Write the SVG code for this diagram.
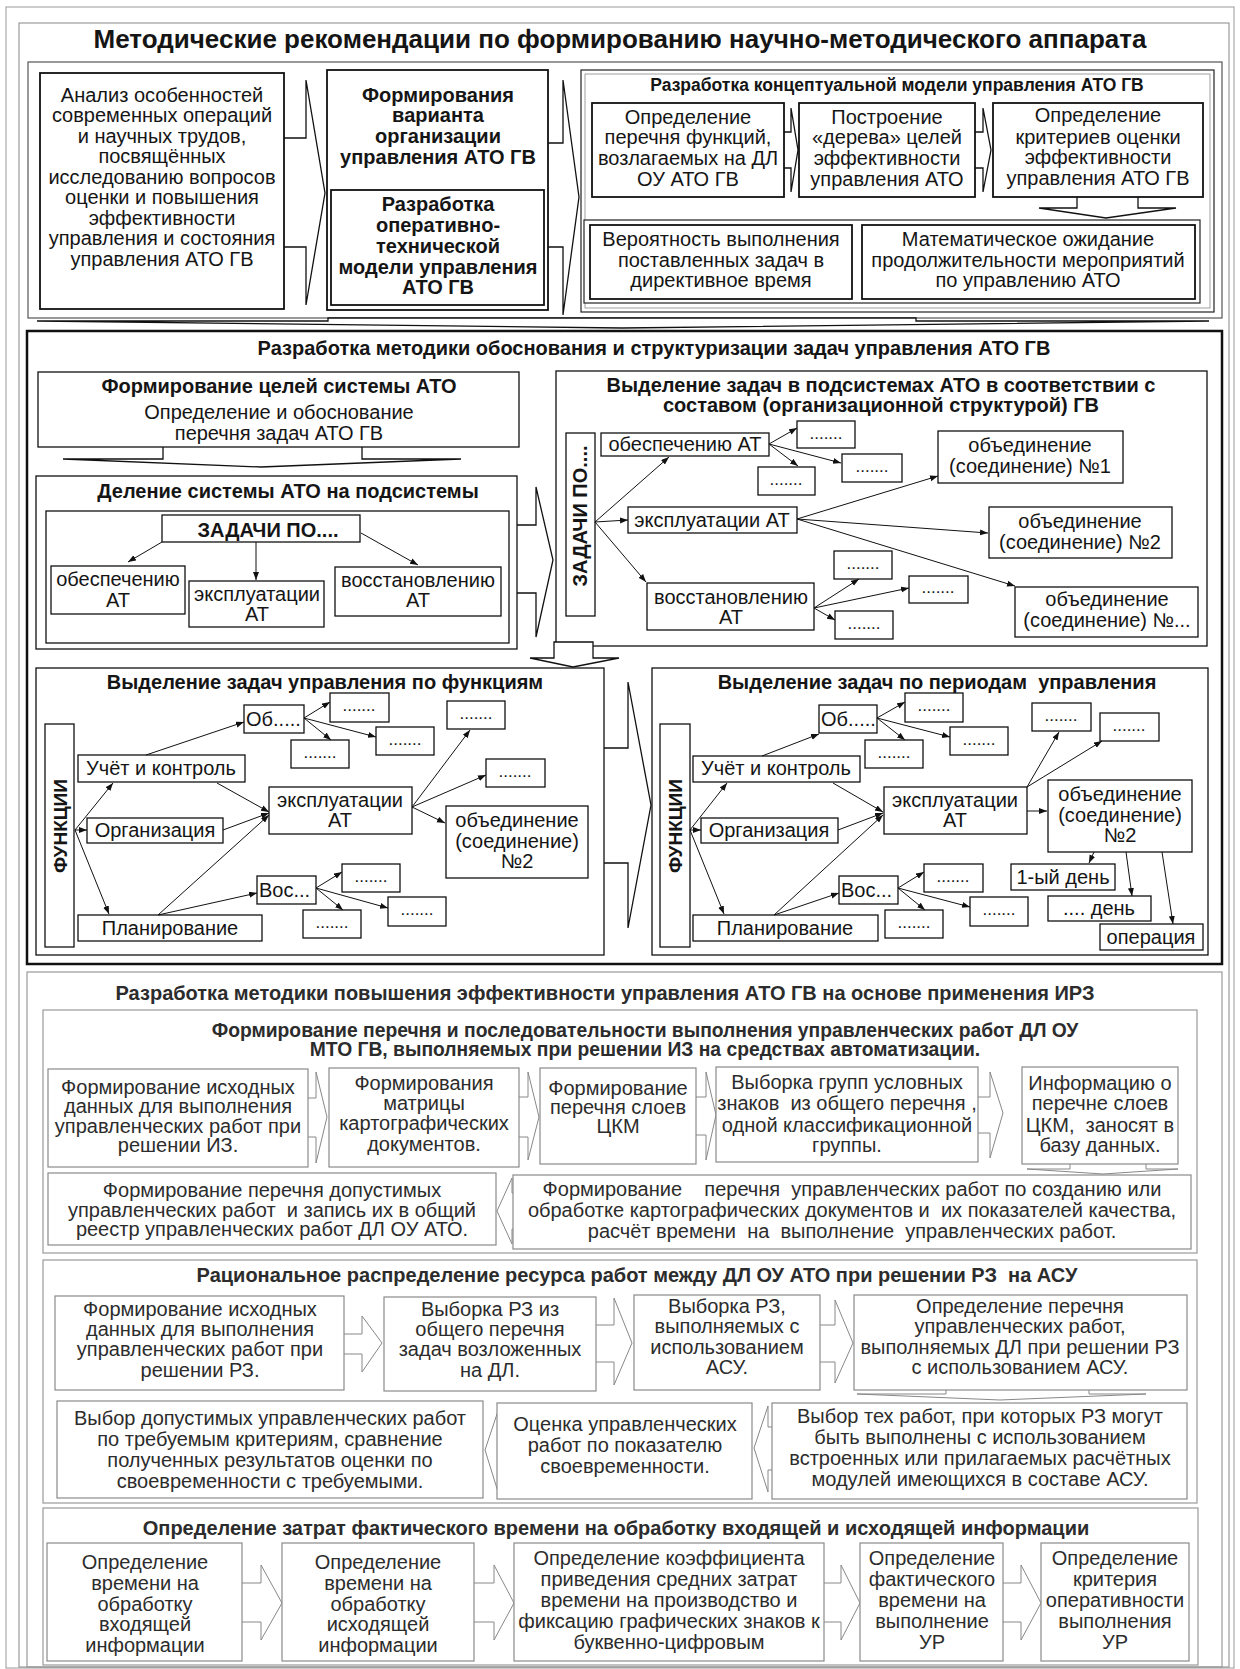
<svg xmlns="http://www.w3.org/2000/svg" width="1240" height="1669" viewBox="0 0 1240 1669">
<defs>
<style>
.t{font-family:'Liberation Sans',Arial,sans-serif;font-size:20px;fill:#151515;text-anchor:middle}
.b{font-weight:bold}
.s{text-anchor:start}
.g{fill:#2c2c2c}
.hd{font-size:20px}
.dt{font-size:17px}
.bx{fill:#fff;stroke:#111;stroke-width:1.8}
.bx2{fill:#fff;stroke:#111;stroke-width:1.3}
.gbx{fill:#fff;stroke:#8a8a8a;stroke-width:1.2}
.fr{fill:none;stroke:#555;stroke-width:1.2}
.gfr{fill:none;stroke:#999;stroke-width:1.2}
.arw{fill:#fff;stroke:#111;stroke-width:1.3}
.garw{fill:#fff;stroke:#888;stroke-width:1}
.ln{fill:none;stroke:#111;stroke-width:1;marker-end:url(#ah)}
</style>
<marker id="ah" markerUnits="userSpaceOnUse" markerWidth="9" markerHeight="7" refX="8" refY="3" orient="auto">
<path d="M0,0 L8,3 L0,6 z" fill="#111"/>
</marker>
</defs>
<rect width="1240" height="1669" fill="#fff"/>
<rect x="6" y="7" width="1228" height="1661" fill="none" stroke="#999" stroke-width="1"/>
<rect x="19" y="23" width="1210" height="1644" fill="none" stroke="#888" stroke-width="1"/>
<text class="t b" x="620" y="48" style="font-size:26px">Методические рекомендации по формированию научно-методического аппарата</text>

<!-- Section 1 -->
<g id="section1">
<rect class="fr" x="28" y="62" width="1194" height="256"/>
<polygon class="arw" points="280,138 306,138 306,80 325,193 306,305 306,247 280,247"/>
<polygon class="arw" points="544,143 563,143 563,80 579,197 563,315 563,247 544,247"/>
<g id="n-analiz">
<rect class="bx" x="40" y="73" width="244" height="236"/>
<text class="t"><tspan x="162" y="102">Анализ особенностей</tspan><tspan x="162" y="122">современных операций</tspan><tspan x="162" y="143">и научных трудов,</tspan><tspan x="162" y="163">посвящённых</tspan><tspan x="162" y="184">исследованию вопросов</tspan><tspan x="162" y="204">оценки и повышения</tspan><tspan x="162" y="225">эффективности</tspan><tspan x="162" y="245">управления и состояния</tspan><tspan x="162" y="266">управления АТО ГВ</tspan></text>
</g>
<g id="n-variant">
<rect class="bx" x="327" y="70" width="221" height="240"/>
<text class="t b"><tspan x="438" y="102">Формирования</tspan><tspan x="438" y="122">варианта</tspan><tspan x="438" y="143">организации</tspan><tspan x="438" y="164">управления АТО ГВ</tspan></text>
</g>
<g id="n-opertech">
<rect class="bx" x="331" y="190" width="213" height="115"/>
<text class="t b"><tspan x="438" y="211">Разработка</tspan><tspan x="438" y="232">оперативно-</tspan><tspan x="438" y="253">технической</tspan><tspan x="438" y="274">модели управления</tspan><tspan x="438" y="294">АТО ГВ</tspan></text>
</g>
<g id="n-concept">
<rect fill="#fff" stroke="#222" stroke-width="1.2" x="581" y="70" width="633" height="242"/>
<rect fill="none" stroke="#888" stroke-width="0.8" x="585" y="74" width="625" height="234"/>
<text class="t b" x="897" y="91" style="font-size:17.5px">Разработка концептуальной модели управления АТО ГВ</text>
</g>
<polygon class="arw" points="780,132 791,132 791,108 798,150 791,192 791,168 780,168"/>
<polygon class="arw" points="971,132 983,132 983,108 991,150 983,192 983,168 971,168"/>
<polygon class="arw" points="1077,193 1138,193 1138,208 1176,208 1106,218 1039,208 1077,208"/>
<g id="n-funcs">
<rect class="bx" x="592" y="103" width="192" height="94"/>
<text class="t"><tspan x="688" y="124">Определение</tspan><tspan x="688" y="144">перечня функций,</tspan><tspan x="688" y="165">возлагаемых на ДЛ</tspan><tspan x="688" y="186">ОУ АТО ГВ</tspan></text>
</g>
<g id="n-tree">
<rect class="bx" x="799" y="103" width="176" height="94"/>
<text class="t"><tspan x="887" y="124">Построение</tspan><tspan x="887" y="144">«дерева» целей</tspan><tspan x="887" y="165">эффективности</tspan><tspan x="887" y="186">управления АТО</tspan></text>
</g>
<g id="n-criteria">
<rect class="bx" x="993" y="103" width="210" height="94"/>
<text class="t"><tspan x="1098" y="122">Определение</tspan><tspan x="1098" y="144">критериев оценки</tspan><tspan x="1098" y="164">эффективности</tspan><tspan x="1098" y="185">управления АТО ГВ</tspan></text>
</g>
<rect fill="#fff" stroke="#222" stroke-width="1.2" x="584" y="220" width="616" height="83"/>
<g id="n-prob">
<rect class="bx" x="590" y="225" width="262" height="74"/>
<text class="t"><tspan x="721" y="246">Вероятность выполнения</tspan><tspan x="721" y="267">поставленных задач в</tspan><tspan x="721" y="287">директивное время</tspan></text>
</g>
<g id="n-expect">
<rect class="bx" x="862" y="225" width="333" height="74"/>
<text class="t"><tspan x="1028" y="246">Математическое ожидание</tspan><tspan x="1028" y="267">продолжительности мероприятий</tspan><tspan x="1028" y="287">по управлению АТО</tspan></text>
</g>
</g>
<polygon class="arw" points="328,318 916,318 916,321 1209,321 622,328 37,321 328,321"/>

<!-- Section 2 -->
<g id="section2">
<rect fill="none" stroke="#111" stroke-width="2.5" x="27" y="331" width="1195" height="633"/>
<text class="t b hd" x="654" y="355">Разработка методики обоснования и структуризации задач управления АТО ГВ</text>
<polygon class="arw" points="163,443 362,443 362,459 461,459 261,467 63,459 163,459"/>
<g id="n-goals">
<rect class="bx2" x="38" y="372" width="481" height="75"/>
<text class="t b" x="279" y="393">Формирование целей системы АТО</text>
<text class="t"><tspan x="279" y="419">Определение и обоснование</tspan><tspan x="279" y="440">перечня задач АТО ГВ</tspan></text>
</g>
<polygon class="arw" points="513,525 536,525 536,487 553,560 536,637 536,593 513,593"/>
<g id="n-division">
<rect class="bx2" x="36" y="476" width="481" height="173"/>
<text class="t b" x="288" y="498">Деление системы АТО на подсистемы</text>
<rect class="bx2" x="46" y="511" width="463" height="132"/>
</g>
<g id="n-zad1"><rect class="bx2" x="162" y="515" width="198" height="27"/><text class="t b" x="268" y="537">ЗАДАЧИ ПО....</text></g>
<g id="n-obesp1"><rect class="bx2" x="51" y="566" width="134" height="48"/><text class="t"><tspan x="118" y="586">обеспечению</tspan><tspan x="118" y="607">АТ</tspan></text></g>
<g id="n-expl1"><rect class="bx2" x="189" y="581" width="135" height="46"/><text class="t"><tspan x="257" y="601">эксплуатации</tspan><tspan x="257" y="621">АТ</tspan></text></g>
<g id="n-vosst1"><rect class="bx2" x="335" y="567" width="166" height="49"/><text class="t"><tspan x="418" y="587">восстановлению</tspan><tspan x="418" y="607">АТ</tspan></text></g>

<g id="n-subsys">
<rect class="bx2" x="556" y="371" width="651" height="275"/>
<text class="t b hd"><tspan x="881" y="392">Выделение задач в подсистемах АТО в соответствии с</tspan><tspan x="881" y="412">составом (организационной структурой) ГВ</tspan></text>
</g>
<g id="n-zad2"><rect class="bx2" x="566" y="433" width="29" height="183"/><text class="t b" transform="translate(580,516) rotate(-90)" x="0" y="7">ЗАДАЧИ ПО....</text></g>
<g id="n-obesp2"><rect class="bx2" x="601" y="433" width="168" height="23"/><text class="t" x="685" y="451">обеспечению АТ</text></g>
<g id="n-expl2"><rect class="bx2" x="628" y="507" width="169" height="26"/><text class="t" x="712" y="527">эксплуатации АТ</text></g>
<g id="n-vosst2"><rect class="bx2" x="647" y="583" width="167" height="47"/><text class="t"><tspan x="731" y="604">восстановлению</tspan><tspan x="731" y="624">АТ</tspan></text></g>
<g id="n-d1"><rect class="bx2" x="797" y="421" width="58" height="27"/><text class="t dt" x="826" y="439">.......</text></g>
<g id="n-d2"><rect class="bx2" x="842" y="454" width="60" height="28"/><text class="t dt" x="872" y="472">.......</text></g>
<g id="n-d3"><rect class="bx2" x="758" y="467" width="57" height="28"/><text class="t dt" x="786" y="485">.......</text></g>
<g id="n-d4"><rect class="bx2" x="834" y="551" width="58" height="28"/><text class="t dt" x="863" y="569">.......</text></g>
<g id="n-d5"><rect class="bx2" x="909" y="576" width="59" height="27"/><text class="t dt" x="938" y="593">.......</text></g>
<g id="n-d6"><rect class="bx2" x="835" y="611" width="58" height="28"/><text class="t dt" x="864" y="629">.......</text></g>
<g id="n-ob1"><rect class="bx2" x="938" y="431" width="185" height="52"/><text class="t"><tspan x="1030" y="452">объединение</tspan><tspan x="1030" y="473">(соединение) №1</tspan></text></g>
<g id="n-ob2"><rect class="bx2" x="989" y="507" width="183" height="51"/><text class="t"><tspan x="1080" y="528">объединение</tspan><tspan x="1080" y="549">(соединение) №2</tspan></text></g>
<g id="n-ob3"><rect class="bx2" x="1015" y="587" width="183" height="50"/><text class="t"><tspan x="1107" y="606">объединение</tspan><tspan x="1107" y="627">(соединение) №...</tspan></text></g>

<polygon class="arw" points="554,642 593,642 593,658 619,658 573,667 530,658 554,658"/>
<polygon class="arw" points="600,748 628,748 628,682 651,805 628,928 628,863 600,863"/>

<g id="n-byfunc">
<rect class="bx2" x="36" y="668" width="568" height="287"/>
<text class="t b" x="325" y="689">Выделение задач управления по функциям</text>
</g>
<g id="n-func1"><rect class="bx2" x="45" y="724" width="29" height="223"/><text class="t b" style="font-size:19px" transform="translate(60,826) rotate(-90)" x="0" y="7">ФУНКЦИИ</text></g>
<g id="n-uchet1"><rect class="bx2" x="78" y="755" width="167" height="27"/><text class="t" x="161" y="775">Учёт и контроль</text></g>
<g id="n-org1"><rect class="bx2" x="87" y="818" width="136" height="25"/><text class="t" x="155" y="837">Организация</text></g>
<g id="n-plan1"><rect class="bx2" x="78" y="915" width="184" height="26"/><text class="t" x="170" y="935">Планирование</text></g>
<g id="n-ob_1"><rect class="bx2" x="244" y="705" width="60" height="28"/><text class="t s" x="246" y="726">Об.....</text></g>
<g id="n-vos_1"><rect class="bx2" x="257" y="876" width="59" height="28"/><text class="t s" x="259" y="897">Вос...</text></g>
<g id="n-expl3"><rect class="bx2" x="269" y="787" width="143" height="47"/><text class="t"><tspan x="340" y="807">эксплуатации</tspan><tspan x="340" y="827">АТ</tspan></text></g>
<g id="n-ob4"><rect class="bx2" x="446" y="806" width="142" height="72"/><text class="t"><tspan x="517" y="827">объединение</tspan><tspan x="517" y="848">(соединение)</tspan><tspan x="517" y="868">№2</tspan></text></g>
<g id="n-a1"><rect class="bx2" x="330" y="693" width="59" height="29"/><text class="t dt" x="359" y="711">.......</text></g>
<g id="n-a2"><rect class="bx2" x="376" y="727" width="58" height="28"/><text class="t dt" x="405" y="745">.......</text></g>
<g id="n-a3"><rect class="bx2" x="291" y="740" width="58" height="28"/><text class="t dt" x="320" y="758">.......</text></g>
<g id="n-a4"><rect class="bx2" x="447" y="701" width="58" height="28"/><text class="t dt" x="476" y="719">.......</text></g>
<g id="n-a5"><rect class="bx2" x="486" y="759" width="59" height="28"/><text class="t dt" x="515" y="777">.......</text></g>
<g id="n-b1"><rect class="bx2" x="342" y="864" width="58" height="28"/><text class="t dt" x="371" y="882">.......</text></g>
<g id="n-b2"><rect class="bx2" x="388" y="897" width="58" height="29"/><text class="t dt" x="417" y="915">.......</text></g>
<g id="n-b3"><rect class="bx2" x="303" y="910" width="58" height="28"/><text class="t dt" x="332" y="928">.......</text></g>

<g id="n-byperiod">
<rect class="bx2" x="652" y="668" width="556" height="287"/>
<text class="t b" x="937" y="689" xml:space="preserve">Выделение задач по периодам  управления</text>
</g>
<g id="n-func2"><rect class="bx2" x="660" y="724" width="30" height="223"/><text class="t b" style="font-size:19px" transform="translate(675,826) rotate(-90)" x="0" y="7">ФУНКЦИИ</text></g>
<g id="n-uchet2"><rect class="bx2" x="693" y="756" width="167" height="26"/><text class="t" x="776" y="775">Учёт и контроль</text></g>
<g id="n-org2"><rect class="bx2" x="701" y="818" width="137" height="25"/><text class="t" x="769" y="837">Организация</text></g>
<g id="n-plan2"><rect class="bx2" x="693" y="915" width="185" height="26"/><text class="t" x="785" y="935">Планирование</text></g>
<g id="n-ob_2"><rect class="bx2" x="819" y="705" width="58" height="28"/><text class="t s" x="821" y="726">Об.....</text></g>
<g id="n-vos_2"><rect class="bx2" x="839" y="876" width="59" height="28"/><text class="t s" x="841" y="897">Вос...</text></g>
<g id="n-expl4"><rect class="bx2" x="884" y="787" width="143" height="47"/><text class="t"><tspan x="955" y="807">эксплуатации</tspan><tspan x="955" y="827">АТ</tspan></text></g>
<g id="n-ob5"><rect class="bx2" x="1048" y="780" width="144" height="72"/><text class="t"><tspan x="1120" y="801">объединение</tspan><tspan x="1120" y="822">(соединение)</tspan><tspan x="1120" y="842">№2</tspan></text></g>
<g id="n-day1"><rect class="bx2" x="1011" y="864" width="104" height="26"/><text class="t" x="1063" y="884">1-ый день</text></g>
<g id="n-dayn"><rect class="bx2" x="1048" y="896" width="103" height="25"/><text class="t" x="1099" y="915">.... день</text></g>
<g id="n-oper"><rect class="bx2" x="1100" y="924" width="103" height="26"/><text class="t" x="1151" y="944">операция</text></g>
<g id="n-c1"><rect class="bx2" x="905" y="693" width="58" height="29"/><text class="t dt" x="934" y="711">.......</text></g>
<g id="n-c2"><rect class="bx2" x="950" y="727" width="58" height="28"/><text class="t dt" x="979" y="745">.......</text></g>
<g id="n-c3"><rect class="bx2" x="865" y="740" width="58" height="28"/><text class="t dt" x="894" y="758">.......</text></g>
<g id="n-c4"><rect class="bx2" x="1032" y="703" width="59" height="28"/><text class="t dt" x="1061" y="721">.......</text></g>
<g id="n-c5"><rect class="bx2" x="1100" y="713" width="59" height="28"/><text class="t dt" x="1129" y="731">.......</text></g>
<g id="n-e1"><rect class="bx2" x="924" y="864" width="59" height="28"/><text class="t dt" x="953" y="882">.......</text></g>
<g id="n-e2"><rect class="bx2" x="970" y="897" width="58" height="29"/><text class="t dt" x="999" y="915">.......</text></g>
<g id="n-e3"><rect class="bx2" x="885" y="910" width="58" height="28"/><text class="t dt" x="914" y="928">.......</text></g>
</g>

<g id="connectors">
<path class="ln" d="M162,542 L128,562"/>
<path class="ln" d="M256,542 L256,580"/>
<path class="ln" d="M361,533 L418,565"/>
<path class="ln" d="M595,522 L669,457"/>
<path class="ln" d="M595,522 L628,520"/>
<path class="ln" d="M595,522 L646,582"/>
<path class="ln" d="M769,444 L797,428"/>
<path class="ln" d="M769,444 L841,463"/>
<path class="ln" d="M769,444 L798,466"/>
<path class="ln" d="M797,519 L938,476"/>
<path class="ln" d="M797,519 L988,533"/>
<path class="ln" d="M797,519 L1015,586"/>
<path class="ln" d="M814,608 L859,579"/>
<path class="ln" d="M814,608 L909,588"/>
<path class="ln" d="M814,608 L835,620"/>
<path class="ln" d="M75,830 L113,783"/>
<path class="ln" d="M75,830 L87,830"/>
<path class="ln" d="M75,830 L109,914"/>
<path class="ln" d="M146,755 L244,722"/>
<path class="ln" d="M217,783 L269,812"/>
<path class="ln" d="M223,830 L269,813"/>
<path class="ln" d="M158,915 L269,815"/>
<path class="ln" d="M158,915 L257,893"/>
<path class="ln" d="M304,718 L330,702"/>
<path class="ln" d="M304,718 L376,737"/>
<path class="ln" d="M304,718 L331,740"/>
<path class="ln" d="M316,888 L342,872"/>
<path class="ln" d="M316,888 L388,908"/>
<path class="ln" d="M316,888 L343,910"/>
<path class="ln" d="M412,807 L470,730"/>
<path class="ln" d="M412,807 L486,775"/>
<path class="ln" d="M412,807 L445,823"/>
<path class="ln" d="M690,830 L727,783"/>
<path class="ln" d="M690,830 L701,830"/>
<path class="ln" d="M690,830 L724,914"/>
<path class="ln" d="M762,756 L819,734"/>
<path class="ln" d="M833,783 L883,812"/>
<path class="ln" d="M838,830 L883,813"/>
<path class="ln" d="M774,915 L883,815"/>
<path class="ln" d="M774,915 L839,893"/>
<path class="ln" d="M877,718 L905,702"/>
<path class="ln" d="M877,718 L950,737"/>
<path class="ln" d="M877,718 L905,740"/>
<path class="ln" d="M898,888 L924,872"/>
<path class="ln" d="M898,888 L970,907"/>
<path class="ln" d="M898,888 L925,910"/>
<path class="ln" d="M1027,787 L1059,732"/>
<path class="ln" d="M1027,787 L1102,741"/>
<path class="ln" d="M1027,811 L1047,811"/>
<path class="ln" d="M1094,852 L1089,863"/>
<path class="ln" d="M1126,852 L1132,896"/>
<path class="ln" d="M1162,852 L1173,924"/>
</g>

<!-- Section 3 -->
<g id="section3">
<rect class="gfr" x="27" y="972" width="1195" height="695"/>
<text class="t b hd g" x="605" y="1000">Разработка методики повышения эффективности управления АТО ГВ на основе применения ИРЗ</text>
<g id="n-subA">
<rect class="gfr" x="43" y="1010" width="1154" height="243"/>
<text class="t b g" style="font-size:19.3px"><tspan x="645" y="1037">Формирование перечня и последовательности выполнения управленческих работ ДЛ ОУ</tspan><tspan x="645" y="1056">МТО ГВ, выполняемых при решении ИЗ на средствах автоматизации.</tspan></text>
</g>
<polygon class="garw" points="304,1098 316,1098 316,1072 327,1117 316,1163 316,1137 304,1137"/>
<polygon class="garw" points="515,1097 528,1097 528,1072 539,1117 528,1160 528,1137 515,1137"/>
<polygon class="garw" points="692,1097 706,1097 706,1072 716,1115 706,1160 706,1135 692,1135"/>
<polygon class="garw" points="974,1097 990,1097 990,1072 1003,1113 990,1158 990,1133 974,1133"/>
<polygon class="garw" points="1070,1160 1146,1160 1146,1169 1178,1169 1103,1174 1027,1169 1070,1169"/>
<polygon class="garw" points="522,1193 512,1193 512,1178 497,1211 512,1244 512,1229 522,1229"/>
<g id="n-A1"><rect class="gbx" x="48" y="1069" width="260" height="98"/><text class="t g"><tspan x="178" y="1094">Формирование исходных</tspan><tspan x="178" y="1113">данных для выполнения</tspan><tspan x="178" y="1133">управленческих работ при</tspan><tspan x="178" y="1152">решении ИЗ.</tspan></text></g>
<g id="n-A2"><rect class="gbx" x="329" y="1068" width="190" height="99"/><text class="t g"><tspan x="424" y="1090">Формирования</tspan><tspan x="424" y="1110">матрицы</tspan><tspan x="424" y="1130">картографических</tspan><tspan x="424" y="1151">документов.</tspan></text></g>
<g id="n-A3"><rect class="gbx" x="540" y="1068" width="156" height="96"/><text class="t g"><tspan x="618" y="1095">Формирование</tspan><tspan x="618" y="1114">перечня слоев</tspan><tspan x="618" y="1133">ЦКМ</tspan></text></g>
<g id="n-A4"><rect class="gbx" x="716" y="1067" width="262" height="95"/><text class="t g" xml:space="preserve"><tspan x="847" y="1089">Выборка групп условных</tspan><tspan x="847" y="1110">знаков  из общего перечня ,</tspan><tspan x="847" y="1132">одной классификационной</tspan><tspan x="847" y="1152">группы.</tspan></text></g>
<g id="n-A5"><rect class="gbx" x="1022" y="1067" width="156" height="97"/><text class="t g" xml:space="preserve"><tspan x="1100" y="1090">Информацию о</tspan><tspan x="1100" y="1110">перечне слоев</tspan><tspan x="1100" y="1132">ЦКМ,  заносят в</tspan><tspan x="1100" y="1152">базу данных.</tspan></text></g>
<g id="n-A6"><rect class="gbx" x="48" y="1173" width="448" height="72"/><text class="t g" xml:space="preserve"><tspan x="272" y="1197">Формирование перечня допустимых</tspan><tspan x="272" y="1217">управленческих работ  и запись их в общий</tspan><tspan x="272" y="1236">реестр управленческих работ ДЛ ОУ АТО.</tspan></text></g>
<g id="n-A7"><rect class="gbx" x="513" y="1175" width="678" height="74"/><text class="t g" xml:space="preserve"><tspan x="852" y="1196">Формирование    перечня  управленческих работ по созданию или</tspan><tspan x="852" y="1217">обработке картографических документов и  их показателей качества,</tspan><tspan x="852" y="1238">расчёт времени  на  выполнение  управленческих работ.</tspan></text></g>

<g id="n-subB">
<rect class="gfr" x="43" y="1260" width="1154" height="243"/>
<text class="t b hd g" x="637" y="1282" xml:space="preserve">Рациональное распределение ресурса работ между ДЛ ОУ АТО при решении РЗ  на АСУ</text>
</g>
<polygon class="garw" points="340,1334 362,1334 362,1316 382,1343 362,1372 362,1354 340,1354"/>
<polygon class="garw" points="592,1325 614,1325 614,1298 632,1343 614,1385 614,1362 592,1362"/>
<polygon class="garw" points="816,1325 835,1325 835,1300 853,1343 835,1383 835,1362 816,1362"/>
<polygon class="garw" points="946,1386 1089,1386 1089,1394 1146,1394 1000,1400 857,1394 946,1394"/>
<polygon class="garw" points="505,1430 499,1430 499,1408 485,1450 499,1495 499,1472 505,1472"/>
<polygon class="garw" points="776,1427 768,1427 768,1406 754,1448 768,1492 768,1470 776,1470"/>
<g id="n-B1"><rect class="gbx" x="55" y="1296" width="289" height="94"/><text class="t g"><tspan x="200" y="1316">Формирование исходных</tspan><tspan x="200" y="1336">данных для выполнения</tspan><tspan x="200" y="1356">управленческих работ при</tspan><tspan x="200" y="1377">решении РЗ.</tspan></text></g>
<g id="n-B2"><rect class="gbx" x="384" y="1297" width="212" height="94"/><text class="t g"><tspan x="490" y="1316">Выборка РЗ из</tspan><tspan x="490" y="1336">общего перечня</tspan><tspan x="490" y="1356">задач возложенных</tspan><tspan x="490" y="1377">на ДЛ.</tspan></text></g>
<g id="n-B3"><rect class="gbx" x="634" y="1295" width="186" height="95"/><text class="t g"><tspan x="727" y="1313">Выборка РЗ,</tspan><tspan x="727" y="1333">выполняемых с</tspan><tspan x="727" y="1354">использованием</tspan><tspan x="727" y="1374">АСУ.</tspan></text></g>
<g id="n-B4"><rect class="gbx" x="854" y="1295" width="333" height="95"/><text class="t g"><tspan x="1020" y="1313">Определение перечня</tspan><tspan x="1020" y="1333">управленческих работ,</tspan><tspan x="1020" y="1354">выполняемых ДЛ при решении РЗ</tspan><tspan x="1020" y="1374">с использованием АСУ.</tspan></text></g>
<g id="n-B5"><rect class="gbx" x="57" y="1401" width="426" height="97"/><text class="t g"><tspan x="270" y="1425">Выбор допустимых управленческих работ</tspan><tspan x="270" y="1446">по требуемым критериям, сравнение</tspan><tspan x="270" y="1467">полученных результатов оценки по</tspan><tspan x="270" y="1488">своевременности с требуемыми.</tspan></text></g>
<g id="n-B6"><rect class="gbx" x="497" y="1403" width="255" height="96"/><text class="t g"><tspan x="625" y="1431">Оценка управленческих</tspan><tspan x="625" y="1452">работ по показателю</tspan><tspan x="625" y="1473">своевременности.</tspan></text></g>
<g id="n-B7"><rect class="gbx" x="772" y="1403" width="415" height="96"/><text class="t g"><tspan x="980" y="1423">Выбор тех работ, при которых РЗ могут</tspan><tspan x="980" y="1444">быть выполнены с использованием</tspan><tspan x="980" y="1465">встроенных или прилагаемых расчётных</tspan><tspan x="980" y="1486">модулей имеющихся в составе АСУ.</tspan></text></g>

<g id="n-subC">
<rect class="gfr" x="43" y="1508" width="1155" height="157"/>
<text class="t b hd g" x="616" y="1535">Определение затрат фактического времени на обработку входящей и исходящей информации</text>
</g>
<polygon class="garw" points="238,1583 261,1583 261,1565 282,1603 261,1640 261,1622 238,1622"/>
<polygon class="garw" points="470,1583 494,1583 494,1565 514,1603 494,1640 494,1622 470,1622"/>
<polygon class="garw" points="820,1583 841,1583 841,1565 860,1603 841,1640 841,1622 820,1622"/>
<polygon class="garw" points="999,1583 1021,1583 1021,1565 1041,1603 1021,1640 1021,1622 999,1622"/>
<g id="n-C1"><rect class="gbx" x="47" y="1543" width="195" height="118"/><text class="t g"><tspan x="145" y="1569">Определение</tspan><tspan x="145" y="1590">времени на</tspan><tspan x="145" y="1611">обработку</tspan><tspan x="145" y="1631">входящей</tspan><tspan x="145" y="1652">информации</tspan></text></g>
<g id="n-C2"><rect class="gbx" x="282" y="1543" width="192" height="118"/><text class="t g"><tspan x="378" y="1569">Определение</tspan><tspan x="378" y="1590">времени на</tspan><tspan x="378" y="1611">обработку</tspan><tspan x="378" y="1631">исходящей</tspan><tspan x="378" y="1652">информации</tspan></text></g>
<g id="n-C3"><rect class="gbx" x="514" y="1543" width="310" height="118"/><text class="t g"><tspan x="669" y="1565">Определение коэффициента</tspan><tspan x="669" y="1586">приведения средних затрат</tspan><tspan x="669" y="1607">времени на производство и</tspan><tspan x="669" y="1628">фиксацию графических знаков к</tspan><tspan x="669" y="1649">буквенно-цифровым</tspan></text></g>
<g id="n-C4"><rect class="gbx" x="860" y="1543" width="143" height="118"/><text class="t g"><tspan x="932" y="1565">Определение</tspan><tspan x="932" y="1586">фактического</tspan><tspan x="932" y="1607">времени на</tspan><tspan x="932" y="1628">выполнение</tspan><tspan x="932" y="1649">УР</tspan></text></g>
<g id="n-C5"><rect class="gbx" x="1041" y="1543" width="148" height="118"/><text class="t g"><tspan x="1115" y="1565">Определение</tspan><tspan x="1115" y="1586">критерия</tspan><tspan x="1115" y="1607">оперативности</tspan><tspan x="1115" y="1628">выполнения</tspan><tspan x="1115" y="1649">УР</tspan></text></g>
</g>
</svg>
